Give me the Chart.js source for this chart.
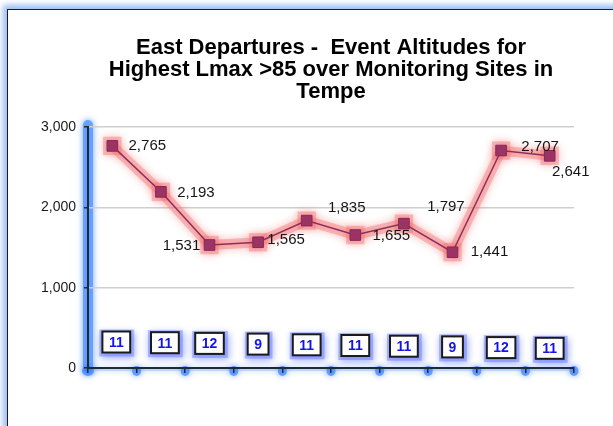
<!DOCTYPE html>
<html>
<head>
<meta charset="utf-8">
<script src="https://cdn.jsdelivr.net/npm/chart.js@4.4.0/dist/chart.umd.min.js"></script>
<style>
  html, body { margin: 0; padding: 0; background: #fff; overflow: hidden; }
  #wrap { position: relative; width: 613px; height: 426px; overflow: hidden; }
  #frame {
    position: absolute; left: 7px; top: 9px; width: 720px; height: 520px;
    border: 1.5px solid #1c1c1c;
    box-shadow: -3px -3px 6px 1px rgba(110, 160, 235, 0.7);
  }
  canvas { position: absolute; left: 0; top: 0; }
</style>
</head>
<body>
<div id="wrap">
  <div id="frame"></div>
  <canvas id="chart" width="613" height="426"></canvas>
</div>
<script>
  // sites along the departure track (no labels shown on the axis)
  const categories = ["", "", "", "", "", "", "", "", "", ""];
  const altitudes = [2765, 2193, 1531, 1565, 1835, 1655, 1797, 1441, 2707, 2641];
  const eventCounts = [11, 11, 12, 9, 11, 11, 11, 9, 12, 11];
  const yTicks = [0, 1000, 2000, 3000];

  const FONT = '"Liberation Sans", Arial, sans-serif';

  // where each value label sits relative to its marker
  const labelOffsets = [
    [35, 0], [35, 1], [-28, 1], [28, -2], [40, -13],
    [36, 1], [42, -17], [37, 0], [39, -4], [21, 16],
  ];

  const axisGlow = {
    id: "axisGlow",
    beforeDraw(chart) {
      const { ctx, chartArea: a, scales: { x } } = chart;
      ctx.save();
      ctx.lineCap = "round";
      ctx.shadowColor = "rgba(60, 130, 255, 0.9)";
      ctx.shadowBlur = 6;
      ctx.strokeStyle = "rgba(95, 155, 250, 0.85)";
      ctx.lineWidth = 10;
      ctx.beginPath();
      ctx.moveTo(a.left, a.top - 2);
      ctx.lineTo(a.left, a.bottom);
      ctx.stroke();

      ctx.strokeStyle = "rgba(90, 155, 245, 0.3)";
      ctx.lineWidth = 4;
      ctx.beginPath();
      ctx.moveTo(a.left, a.bottom + 1);
      ctx.lineTo(a.right, a.bottom + 1);
      ctx.stroke();

      ctx.fillStyle = "rgba(60, 130, 255, 0.7)";
      for (let i = 0; i <= categories.length; i++) {
        const px = x.getPixelForValue(i - 0.5);
        ctx.beginPath();
        ctx.ellipse(px, a.bottom + 3, i === 0 ? 6 : 4.5, 5, 0, 0, Math.PI * 2);
        ctx.fill();
      }
      ctx.restore();
    },
  };

  const lineGlow = {
    id: "lineGlow",
    beforeDatasetDraw(chart, args) {
      if (args.index !== 1) return;
      const ctx = chart.ctx;
      ctx.save();
      ctx.shadowColor = "rgba(240, 90, 90, 0.85)";
      ctx.shadowBlur = 9;
    },
    afterDatasetDraw(chart, args) {
      if (args.index !== 1) return;
      chart.ctx.restore();
    },
  };

  const valueLabels = {
    id: "valueLabels",
    afterDatasetsDraw(chart) {
      const { ctx } = chart;
      const meta = chart.getDatasetMeta(0);
      ctx.save();
      ctx.font = "15px " + FONT;
      ctx.fillStyle = "#151515";
      ctx.textAlign = "center";
      ctx.textBaseline = "middle";
      meta.data.forEach((pt, i) => {
        const [dx, dy] = labelOffsets[i];
        ctx.fillText(altitudes[i].toLocaleString("en-US"), pt.x + dx, pt.y + dy);
      });
      ctx.restore();
    },
  };

  const countBoxes = {
    id: "countBoxes",
    afterDatasetsDraw(chart) {
      const { ctx, scales: { x, y } } = chart;
      ctx.save();
      ctx.font = "bold 14px " + FONT;
      ctx.textAlign = "center";
      ctx.textBaseline = "middle";
      eventCounts.forEach((n, i) => {
        const txt = String(n);
        const w = ctx.measureText(txt).width + 13;
        const h = 21;
        const cx = x.getPixelForValue(i) + (i < 2 ? 4 : 0);
        const cy = y.getPixelForValue(0) - 26 + i * 0.7;
        // soft blue halo, heavier towards bottom-right
        ctx.save();
        ctx.shadowColor = "rgba(50, 80, 255, 0.95)";
        ctx.shadowBlur = 7;
        ctx.shadowOffsetX = 1;
        ctx.shadowOffsetY = 2;
        ctx.fillStyle = "rgba(110, 130, 255, 0.5)";
        ctx.fillRect(cx - w / 2 - 3, cy - h / 2 - 2, w + 7, h + 6);
        ctx.restore();
        ctx.fillStyle = "#fff";
        ctx.fillRect(cx - w / 2, cy - h / 2, w, h);
        ctx.strokeStyle = "#1a1a1a";
        ctx.lineWidth = 2;
        ctx.strokeRect(cx - w / 2, cy - h / 2, w, h);
        ctx.fillStyle = "#1414e8";
        ctx.fillText(txt, cx, cy + 1);
      });
      ctx.restore();
    },
  };

  new Chart(document.getElementById("chart"), {
    type: "line",
    data: {
      labels: categories,
      datasets: [
        {
          label: "Altitude",
          data: altitudes,
          order: 1,
          borderColor: "#8c2f5d",
          borderWidth: 1.5,
          pointStyle: "rect",
          pointRadius: 7.5,
          pointBackgroundColor: "#9b3465",
          pointBorderColor: "#86295a",
          pointBorderWidth: 1,
          tension: 0,
        },
        {
          label: "glow",
          data: altitudes,
          order: 2,
          borderColor: "rgba(245, 125, 125, 0.45)",
          borderWidth: 10,
          pointStyle: "rect",
          pointRadius: 13,
          pointBackgroundColor: "rgba(245, 120, 120, 0.45)",
          pointBorderWidth: 0,
          tension: 0,
        },
      ],
    },
    options: {
      responsive: false,
      animation: false,
      devicePixelRatio: 1,
      layout: { padding: { left: 0, right: 39, top: 0, bottom: 48 } },
      plugins: {
        legend: { display: false },
        tooltip: { enabled: false },
        title: {
          display: true,
          fullSize: false,
          text: [
            "East Departures -  Event Altitudes for",
            "Highest Lmax >85 over Monitoring Sites in",
            "Tempe",
          ],
          color: "#000",
          font: { family: FONT, size: 22, weight: "bold", lineHeight: 1.0 },
          padding: { top: 37, bottom: 24 },
        },
      },
      scales: {
        x: {
          type: "category",
          offset: true,
          afterFit: (s) => { s.height = 10; },
          ticks: { display: false },
          grid: {
            offset: true,
            drawOnChartArea: false,
            drawTicks: true,
            tickLength: 5,
            color: "#1f2a38",
            lineWidth: 1.5,
          },
          border: { color: "#1f2a38", width: 2 },
        },
        y: {
          min: yTicks[0],
          max: yTicks[yTicks.length - 1],
          afterFit: (s) => { s.width = 88; },
          afterBuildTicks: (s) => { s.ticks = yTicks.map((v) => ({ value: v })); },
          ticks: {
            padding: 8,
            color: "#1a1a1a",
            font: { family: FONT, size: 14 },
            callback: (v) => v.toLocaleString("en-US"),
          },
          grid: {
            color: "#cfcfcf",
            lineWidth: 1.5,
            tickLength: 4,
            tickColor: "#1f2a38",
          },
          border: { color: "#1f2a38", width: 2 },
        },
      },
    },
    plugins: [axisGlow, lineGlow, valueLabels, countBoxes],
  });
</script>
</body>
</html>
